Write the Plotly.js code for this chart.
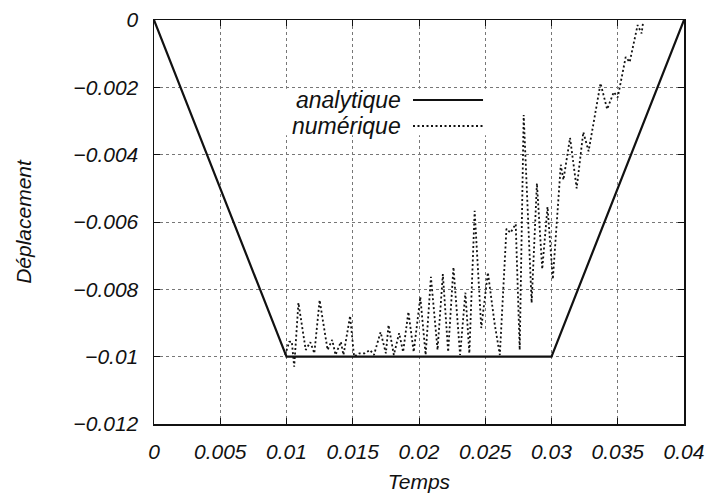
<!DOCTYPE html>
<html>
<head>
<meta charset="utf-8">
<script src="https://cdn.plot.ly/plotly-3.0.1.min.js"></script>
<style>html,body{margin:0;padding:0;background:#fff;}#chart{width:714px;height:497px;}</style>
</head>
<body>
<div id="chart"></div>
<script>
// Analytic solution
const analyticT = [0, 0.01, 0.03, 0.04];
const analyticU = [0, -0.01, -0.01, 0];

// Numerical solution
const numericT = [0.0099, 0.0102, 0.0104, 0.01058, 0.0109, 0.01145, 0.0118, 0.0121, 0.0125, 0.0131, 0.01345, 0.0137, 0.0141, 0.0143, 0.0148, 0.0151, 0.0155, 0.0159, 0.0163, 0.0166, 0.0171, 0.0175, 0.0177, 0.0181, 0.0185, 0.0188, 0.0192, 0.0196, 0.0201, 0.0205, 0.0209, 0.0214, 0.0218, 0.0222, 0.0226, 0.0231, 0.0235, 0.0238, 0.0242, 0.0247, 0.0252, 0.0257, 0.0261, 0.0266, 0.0269, 0.0273, 0.0276, 0.0279, 0.0285, 0.0289, 0.0293, 0.0297, 0.0301, 0.0307, 0.0309, 0.0314, 0.0319, 0.0324, 0.0328, 0.0337, 0.0342, 0.0347, 0.035, 0.0356, 0.0359, 0.0365, 0.0368, 0.0369];
const numericU = [-0.00995, -0.00956, -0.00955, -0.0103, -0.0084, -0.0098, -0.00957, -0.0099, -0.00832, -0.0098, -0.0095, -0.00995, -0.00956, -0.00995, -0.00879, -0.01, -0.0099, -0.0099, -0.0098, -0.00995, -0.00927, -0.0099, -0.00906, -0.00995, -0.0093, -0.00986, -0.00867, -0.00986, -0.00823, -0.00995, -0.00763, -0.0098, -0.00755, -0.00986, -0.00734, -0.00995, -0.0081, -0.0099, -0.00567, -0.00915, -0.0075, -0.009, -0.00995, -0.0062, -0.00632, -0.00606, -0.0098, -0.00282, -0.0084, -0.00485, -0.0074, -0.00555, -0.0077, -0.0043, -0.00475, -0.0035, -0.005, -0.00333, -0.0039, -0.00188, -0.00265, -0.00214, -0.0023, -0.0011, -0.00125, -0.00015, -0.0004, -0.0001];

// Tick labels
const xTickVals = [0, 0.005, 0.01, 0.015, 0.02, 0.025, 0.03, 0.035, 0.04];
const xTickText = ['0', '0.005', '0.01', '0.015', '0.02', '0.025', '0.03', '0.035', '0.04'];
const yTickVals = [0, -0.002, -0.004, -0.006, -0.008, -0.01, -0.012];
const yTickText = ['0', '\u22120.002', '\u22120.004', '\u22120.006', '\u22120.008', '\u22120.01', '\u22120.012'];

const seriesNames = ['analytique', 'numérique'];

const FONT = 'Liberation Sans, Arial, Helvetica, sans-serif';
const INK = '#111';

const traces = [
  {x: analyticT, y: analyticU, mode: 'lines', name: seriesNames[0],
   line: {color: INK, width: 2.2}, showlegend: false},
  {x: numericT, y: numericU, mode: 'lines', name: seriesNames[1],
   line: {color: INK, width: 1.8, dash: '2px,2.5px'}, showlegend: false}
];

const axisCommon = {
  showline: true, linecolor: INK, linewidth: 1.5, mirror: 'ticks',
  ticks: 'inside', ticklen: 6, tickwidth: 1, tickcolor: INK,
  showgrid: true, gridcolor: '#777', gridwidth: 1, griddash: 'dot',
  zeroline: false,
  tickfont: {family: FONT, size: 21, color: INK, style: 'italic'}
};

const layout = {
  width: 714, height: 497,
  margin: {l: 154, r: 30, t: 20, b: 73},
  paper_bgcolor: '#fff', plot_bgcolor: '#fff',
  font: {family: FONT, color: INK, style: 'italic'},
  xaxis: Object.assign({}, axisCommon, {
    range: [0, 0.04], tickmode: 'array', tickvals: xTickVals, ticktext: xTickText,
    ticklabelstandoff: 8,
    title: {text: 'Temps', font: {family: FONT, size: 21, color: INK, style: 'italic'}, standoff: 12}
  }),
  yaxis: Object.assign({}, axisCommon, {
    range: [-0.012, 0], tickmode: 'array', tickvals: yTickVals, ticktext: yTickText,
    ticklabelstandoff: 10,
    title: {text: 'Déplacement', font: {family: FONT, size: 21, color: INK, style: 'italic'}, standoff: 36}
  }),
  shapes: [
    {type: 'rect', xref: 'paper', yref: 'paper', x0: 0.243, x1: 0.634, y0: 0.715, y1: 0.83,
     fillcolor: '#fff', line: {width: 0}, layer: 'above'},
    {type: 'line', xref: 'paper', yref: 'paper', x0: 0.4887, x1: 0.6208, y0: 0.802, y1: 0.802,
     line: {color: INK, width: 2.2}, layer: 'above'},
    {type: 'line', xref: 'paper', yref: 'paper', x0: 0.4887, x1: 0.6208, y0: 0.7376, y1: 0.7376,
     line: {color: INK, width: 1.8, dash: '2px,2.5px'}, layer: 'above'}
  ],
  annotations: [
    {xref: 'paper', yref: 'paper', x: 0.4698, y: 0.802, xanchor: 'right', yanchor: 'middle',
     text: seriesNames[0], showarrow: false, font: {family: FONT, size: 23, color: INK, style: 'italic'}},
    {xref: 'paper', yref: 'paper', x: 0.4698, y: 0.7376, xanchor: 'right', yanchor: 'middle',
     text: seriesNames[1], showarrow: false, font: {family: FONT, size: 23, color: INK, style: 'italic'}}
  ]
};

Plotly.newPlot('chart', traces, layout, {staticPlot: true, displayModeBar: false});
</script>
</body>
</html>
